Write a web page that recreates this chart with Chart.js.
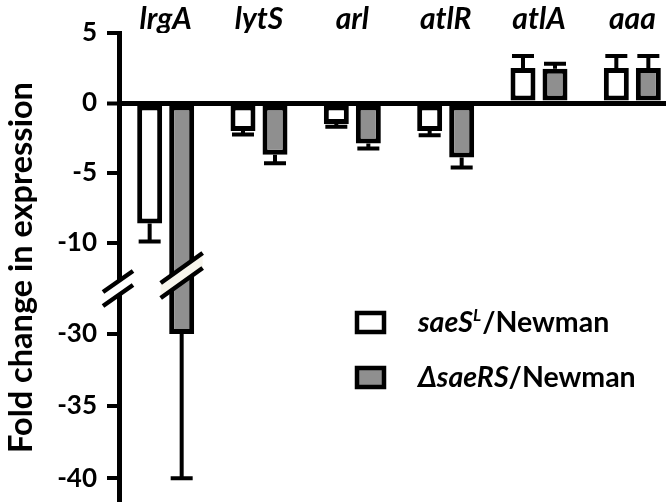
<!DOCTYPE html>
<html>
<head>
<meta charset="utf-8">
<script src="https://cdn.jsdelivr.net/npm/chart.js@4/dist/chart.umd.min.js"></script>
<style>
    html, body { margin: 0; padding: 0; background: #fff; overflow: hidden; }
    #wrap { width: 680px; height: 502px; }
</style>
</head>
<body>
<div id="wrap"><canvas id="chart" width="680" height="502"></canvas></div>
<script>
const GENES = ['lrgA', 'lytS', 'arl', 'atlR', 'atlA', 'aaa'];
const SERIES_LABELS = ['saeS^L/Newman', '\u0394saeRS/Newman'];
const SAES_L = [-8.6, -2.0, -1.5, -2.0, 2.5, 2.5];
const SAES_L_ERR = [1.3, 0.25, 0.2, 0.3, 0.85, 0.85];
const DELTA_SAERS = [-30, -3.7, -2.9, -3.9, 2.45, 2.5];
const DELTA_SAERS_ERR = [10, 0.6, 0.35, 0.7, 0.35, 0.85];
const Y_TICKS = [5, 0, -5, -10, -30, -35, -40];

// broken axis: values below the break are moved up so -30 sits just under -10
function squash(v) {
    return v >= -20 ? v : -16.5 + (v + 30) * 1.03;
}

class BrokenLinearScale extends Chart.LinearScale {
    getPixelForValue(value) {
        return super.getPixelForValue(value == null ? value : squash(value));
    }
}
BrokenLinearScale.id = 'brokenLinear';
BrokenLinearScale.defaults = Chart.LinearScale.defaults;
Chart.register(BrokenLinearScale);

const errorBars = {
    id: 'errorBars',
    afterDatasetsDraw(chart) {
        const ctx = chart.ctx;
        const y = chart.scales.y;
        const errs = [SAES_L_ERR, DELTA_SAERS_ERR];
        ctx.save();
        ctx.strokeStyle = '#000';
        ctx.lineWidth = 4;
        chart.data.datasets.forEach((ds, d) => {
            chart.getDatasetMeta(d).data.forEach((bar, i) => {
                const v = ds.data[i];
                const end = v + Math.sign(v) * errs[d][i];
                const yEnd = y.getPixelForValue(end);
                ctx.beginPath();
                ctx.moveTo(bar.x, bar.y);
                ctx.lineTo(bar.x, yEnd);
                ctx.moveTo(bar.x - 11, yEnd);
                ctx.lineTo(bar.x + 11, yEnd);
                ctx.stroke();
            });
        });
        ctx.restore();
    }
};

function slashPair(ctx, cx, cy, dx, dy, gap, fill) {
    ctx.fillStyle = fill;
    ctx.beginPath();
    ctx.moveTo(cx - dx, cy - gap + dy);
    ctx.lineTo(cx + dx, cy - gap - dy);
    ctx.lineTo(cx + dx, cy + gap - dy);
    ctx.lineTo(cx - dx, cy + gap + dy);
    ctx.closePath();
    ctx.fill();
    ctx.beginPath();
    ctx.moveTo(cx - dx, cy - gap + dy);
    ctx.lineTo(cx + dx, cy - gap - dy);
    ctx.moveTo(cx - dx, cy + gap + dy);
    ctx.lineTo(cx + dx, cy + gap - dy);
    ctx.stroke();
}

const axisBreak = {
    id: 'axisBreak',
    afterDraw(chart) {
        const ctx = chart.ctx;
        const y = chart.scales.y;
        const cy = (y.getPixelForValue(-10) + y.getPixelForValue(-30)) / 2;
        ctx.save();
        ctx.strokeStyle = '#000';
        ctx.lineWidth = 4.5;
        slashPair(ctx, chart.chartArea.left - 1, cy, 15, 10.5, 7, '#fff');
        const bar = chart.getDatasetMeta(1).data[0];
        slashPair(ctx, bar.x, cy - 13, 21, 15, 7.5, '#f7f5ec');
        ctx.restore();
    }
};

const richLegend = {
    id: 'richLegend',
    afterDraw(chart) {
        const ctx = chart.ctx;
        const rows = [
            { fill: '#fff', y: 311, parts: [['saeS', 'italic', 0], ['L', 'italic', 1], ['/Newman', 'normal', 0]] },
            { fill: '#8f8f8f', y: 366, parts: [['\u0394saeRS', 'italic', 0], ['/Newman', 'normal', 0]] }
        ];
        ctx.save();
        rows.forEach(r => {
            ctx.fillStyle = r.fill;
            ctx.fillRect(357, r.y + 2, 27, 19);
            ctx.strokeStyle = '#000';
            ctx.lineWidth = 4.5;
            ctx.strokeRect(357, r.y + 2, 27, 19);
            let x = 418;
            ctx.fillStyle = '#000';
            ctx.textBaseline = 'alphabetic';
            r.parts.forEach(([t, style, sup]) => {
                ctx.font = style + ' bold ' + (sup ? 17 : 28.5) + 'px Lato';
                ctx.fillText(t, x, r.y + 21 - (sup ? 11 : 0));
                x += ctx.measureText(t).width + (sup ? 1 : 0);
            });
        });
        ctx.restore();
    }
};

new Chart(document.getElementById('chart'), {
    type: 'bar',
    data: {
        labels: GENES,
        datasets: [
            {
                label: SERIES_LABELS[0],
                data: SAES_L,
                backgroundColor: '#ffffff',
                borderColor: '#000',
                borderWidth: 5,
                borderSkipped: false
            },
            {
                label: SERIES_LABELS[1],
                data: DELTA_SAERS,
                backgroundColor: '#8f8f8f',
                borderColor: '#000',
                borderWidth: 5,
                borderSkipped: false
            }
        ]
    },
    options: {
        responsive: false,
        animation: false,
        devicePixelRatio: 1,
        categoryPercentage: 0.686,
        barPercentage: 0.78,
        layout: { padding: { left: 0, right: 1, top: 0, bottom: 0 } },
        plugins: {
            legend: { display: false },
            tooltip: { enabled: false }
        },
        scales: {
            x: {
                position: 'top',
                grid: { display: false, drawTicks: false },
                border: { display: false },
                ticks: {
                    color: '#000',
                    padding: -4,
                    font: { family: 'Lato', size: 30, style: 'italic', weight: 'bold' }
                },
                afterFit: s => { s.height = 33; s.paddingLeft = 0; s.paddingRight = 0; }
            },
            y: {
                type: 'brokenLinear',
                min: -28.5,
                max: 5,
                afterBuildTicks: s => { s.ticks = Y_TICKS.map(v => ({ value: v })); },
                border: { display: true, color: '#000', width: 5 },
                grid: {
                    color: c => (c.tick && c.tick.value === 0 ? '#000' : 'rgba(0,0,0,0)'),
                    lineWidth: c => (c.tick && c.tick.value === 0 ? 5 : 0),
                    drawTicks: true,
                    tickColor: '#000',
                    tickWidth: 4,
                    tickLength: 12
                },
                ticks: {
                    color: '#000',
                    padding: 10,
                    autoSkip: false,
                    font: { family: 'Lato', size: 26, weight: 'bold' },
                    callback: v => String(v)
                },
                title: {
                    display: true,
                    text: 'Fold change in expression',
                    color: '#000',
                    font: { family: 'Lato', size: 32.5, weight: 'bold' },
                    padding: { top: 2, bottom: 0 }
                },
                afterFit: s => { s.width = 119; s.paddingTop = 0; s.paddingBottom = 0; }
            }
        }
    },
    plugins: [errorBars, axisBreak, richLegend]
});
</script>
</body>
</html>
